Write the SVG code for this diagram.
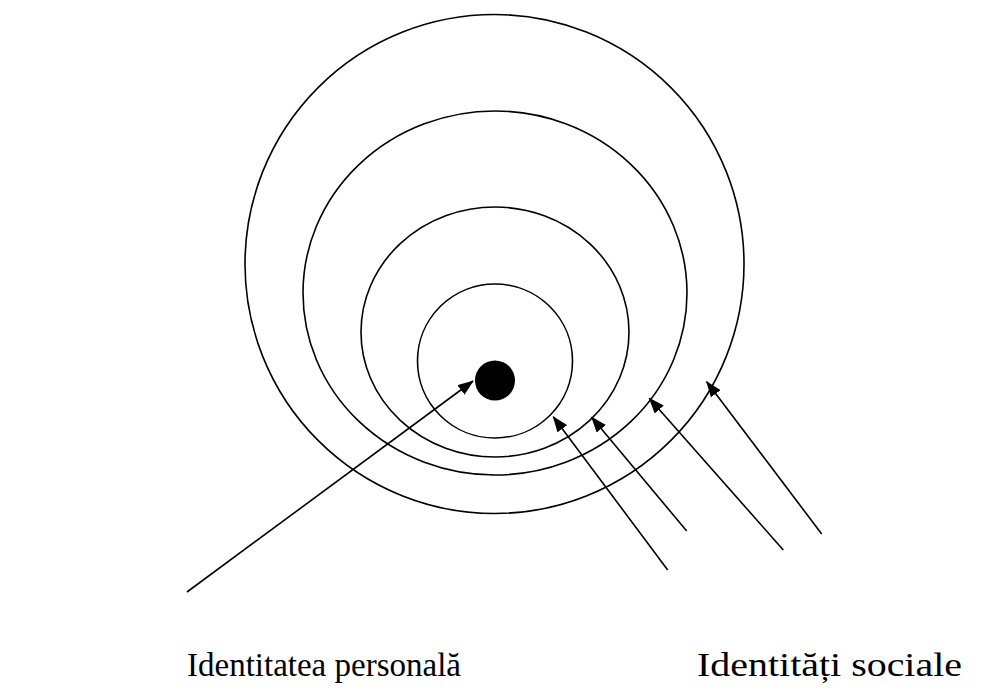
<svg xmlns="http://www.w3.org/2000/svg" width="990" height="691" viewBox="0 0 990 691">
<style>
.ring{fill:none;stroke:#000;stroke-width:1.6}
.conn{stroke:#000;stroke-width:1.6;fill:none}
.lbl{font-family:"Liberation Serif","Times New Roman",serif;font-size:33px;fill:#000}
</style>
<defs>
<marker id="ah" viewBox="0 0 16 12" refX="15" refY="6" markerWidth="16" markerHeight="12" markerUnits="userSpaceOnUse" orient="auto">
<path d="M0,0 L16,6 L0,12 z" fill="#000"/>
</marker>
</defs>
<rect width="990" height="691" fill="#fff"/>
<g id="ring1"><ellipse class="ring" cx="494.5" cy="264" rx="249.5" ry="249.5"/></g>
<g id="ring2"><ellipse class="ring" cx="495" cy="293" rx="192" ry="182"/></g>
<g id="ring3"><ellipse class="ring" cx="495" cy="332" rx="134" ry="125"/></g>
<g id="ring4"><ellipse class="ring" cx="495" cy="361" rx="77.5" ry="77"/></g>
<g id="core"><circle cx="495" cy="380.5" r="20" fill="#000"/></g>
<g id="connectors">
<line class="conn" x1="187" y1="592" x2="473" y2="381" marker-end="url(#ah)"/>
<line class="conn" x1="667.7" y1="570" x2="553.3" y2="416.7" marker-end="url(#ah)"/>
<line class="conn" x1="686.7" y1="531" x2="591.7" y2="417.3" marker-end="url(#ah)"/>
<line class="conn" x1="783.3" y1="550" x2="649.3" y2="398.3" marker-end="url(#ah)"/>
<line class="conn" x1="821.7" y1="534" x2="706.7" y2="381.7" marker-end="url(#ah)"/>
</g>
<g id="label-personal"><text class="lbl" x="187" y="676">Identitatea personală</text></g>
<g id="label-social"><text class="lbl" x="697" y="676" textLength="265" lengthAdjust="spacingAndGlyphs">Identități sociale</text></g>
</svg>
